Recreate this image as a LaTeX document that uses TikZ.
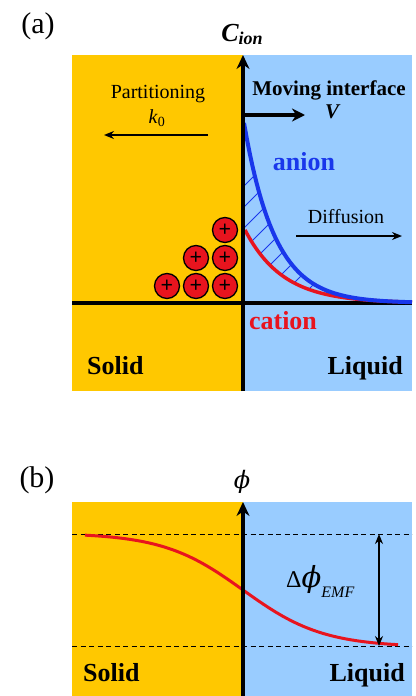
\documentclass[tikz,border=0pt]{standalone}
\usepackage{fontspec}
\setmainfont{Liberation Serif}
\newfontfamily\phifont{DejaVu Serif}
\usetikzlibrary{arrows.meta}
\definecolor{solidcol}{RGB}{255,200,0}
\definecolor{liquidcol}{RGB}{153,204,255}
\definecolor{anioncol}{RGB}{25,55,235}
\definecolor{cationcol}{RGB}{232,20,30}

\begin{document}
\begin{tikzpicture}[x=1pt,y=-1pt,>={Stealth[length=10pt,width=8pt]}]
  \tikzstyle{axis}=[line width=3.5pt,-{Stealth[length=14pt,width=13pt]}]
  \tikzstyle{lbl}=[font=\fontsize{20}{22}\selectfont,inner sep=0pt]
  \tikzstyle{big}=[font=\fontsize{26}{28}\selectfont\bfseries,inner sep=0pt]
  \tikzstyle{panel}=[font=\fontsize{30}{32}\selectfont,inner sep=0pt]
  \tikzstyle{ion}=[circle,draw,line width=1.3pt,fill=cationcol,minimum size=25pt,inner sep=0pt,font=\fontsize{22}{22}\selectfont\bfseries]
  \tikzstyle{hatch}=[anioncol,line width=1pt]
  \useasboundingbox (0,0) rectangle (415,696);
  % (a) concentration
  \fill[solidcol] (72,55) rectangle (243,391);
  \fill[liquidcol] (243,55) rectangle (412,391);
  \begin{scope}
    \clip plot[domain=244:412,samples=60] (\x,{303-180*exp(-(\x-244)/31)})
      -- plot[domain=412:245,samples=60] (\x,{303-73*exp(-(\x-245)/38)}) -- cycle;
    \foreach \c in {430,451,...,620}
      \draw[hatch] (\c-320,320) -- (\c-100,100);
  \end{scope}
  \coordinate (xa0) at (72,303);
  \coordinate (xa1) at (412,303);
  \coordinate (ya0) at (243,391);
  \coordinate (ya1) at (243,55);
  \draw[line width=3.5pt] (xa0) -- (xa1);
  \draw[cationcol,line width=3.5pt] plot[domain=245:412,samples=60] (\x,{303-73*exp(-(\x-245)/38)});
  \draw[anioncol,line width=4pt] plot[domain=244:412,samples=60] (\x,{303-180*exp(-(\x-244)/31)});
  \draw[axis] (ya0) -- (ya1);
  \node[ion] (c1) at (167,286) {+};
  \node[ion] (c2) at (196,286) {+};
  \node[ion] (c3) at (225,286) {+};
  \node[ion] (c4) at (196,258) {+};
  \node[ion] (c5) at (225,258) {+};
  \node[ion] (c6) at (225,230) {+};
  \node[panel] (pa) at (38,26) {(a)};
  \node[big,font=\fontsize{26}{28}\selectfont\bfseries\itshape,anchor=base] (cion) at (242,41) {C\raisebox{-3pt}{\fontsize{18}{18}\selectfont ion}};
  \node[lbl,anchor=base] (part) at (158,98) {Partitioning};
  \node[lbl,anchor=base] (k0) at (157,123) {\textit{k}\textsubscript{0}};
  \coordinate (pt0) at (208,135);
  \coordinate (pt1) at (104,135);
  \draw[->,line width=1.5pt] (pt0) -- (pt1);
  \node[lbl,font=\fontsize{21}{22}\selectfont\bfseries,anchor=base] (mov) at (329,95) {Moving interface};
  \node[lbl,font=\fontsize{21}{22}\selectfont\bfseries\itshape,anchor=base] (vel) at (332,118) {V};
  \coordinate (mi0) at (243,115);
  \coordinate (mi1) at (305,115);
  \draw[line width=4pt,-{Stealth[length=13pt,width=13pt]}] (mi0) -- (mi1);
  \node[big,text=anioncol,anchor=base] (an) at (304,170) {anion};
  \node[big,text=cationcol,anchor=base] (cat) at (283,329) {cation};
  \node[lbl,anchor=base] (dif) at (346,223) {Diffusion};
  \coordinate (df0) at (296,236);
  \coordinate (df1) at (402,236);
  \draw[->,line width=1.5pt] (df0) -- (df1);
  \node[big,anchor=base west] (sa) at (87,374) {Solid};
  \node[big,anchor=base east] (la) at (403,374) {Liquid};
  % (b) potential
  \fill[solidcol] (72,502) rectangle (243,696);
  \fill[liquidcol] (243,502) rectangle (412,696);
  \coordinate (d1a) at (72,534);
  \coordinate (d1b) at (412,534);
  \coordinate (d2a) at (72,646);
  \coordinate (d2b) at (412,646);
  \draw[dashed,line width=1pt,dash pattern=on 5pt off 3.5pt] (d1a) -- (d1b);
  \draw[dashed,line width=1pt,dash pattern=on 5pt off 3.5pt] (d2a) -- (d2b);
  \draw[cationcol,line width=3pt] plot[domain=85:398,samples=80] (\x,{590+57*tanh((\x-243)/80)});
  \coordinate (yb0) at (243,696);
  \coordinate (yb1) at (243,502);
  \draw[axis] (yb0) -- (yb1);
  \coordinate (e0) at (379,534);
  \coordinate (e1) at (379,646);
  \draw[<->,line width=2pt] (e0) -- (e1);
  \node[panel] (pb) at (37,480) {(b)};
  \node[font=\fontsize{24}{26}\selectfont\phifont\itshape,inner sep=0pt] (phi) at (242,482) {ϕ};
  \node[font=\fontsize{24}{26}\selectfont,inner sep=0pt,anchor=base west] (emf) at (286,587)
    {Δ{\fontsize{29}{29}\selectfont\phifont\itshape ϕ}\raisebox{-10pt}{\fontsize{16}{16}\selectfont\itshape EMF}};
  \node[big,anchor=base west] (sb) at (83,681) {Solid};
  \node[big,anchor=base east] (lb) at (405,681) {Liquid};
\end{tikzpicture}
\end{document}
